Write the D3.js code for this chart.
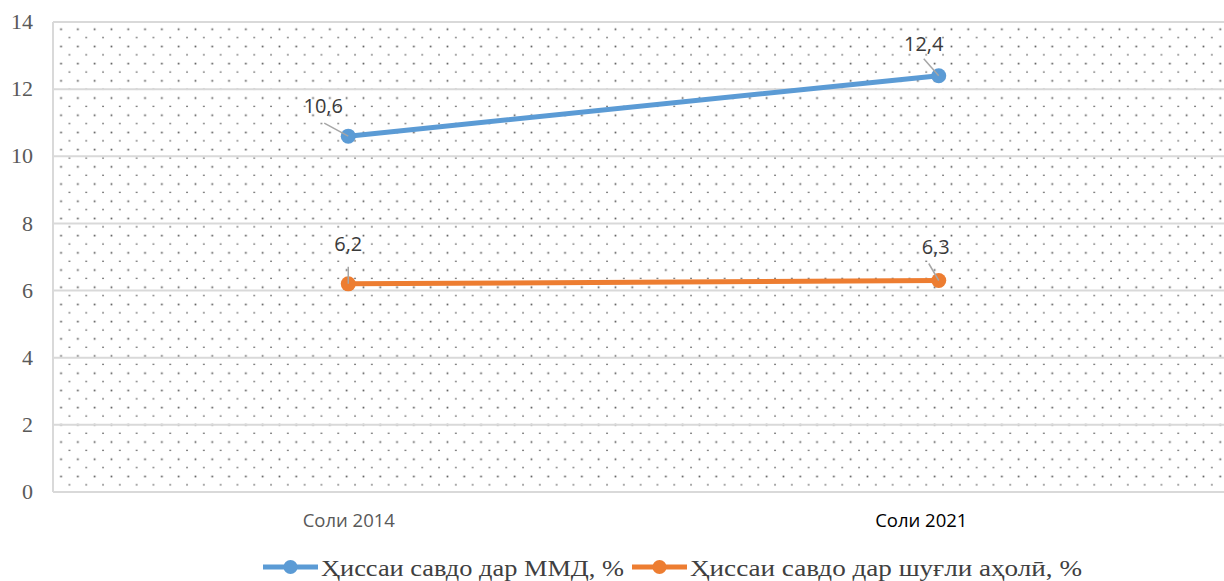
<!DOCTYPE html>
<html>
<head>
<meta charset="utf-8">
<script src="https://cdn.jsdelivr.net/npm/d3@7"></script>
<style>
  body { margin: 0; background: #fff; }
  svg { display: block; }
  .serif { font-family: 'Times New Roman', 'Liberation Serif', Tinos, 'DejaVu Serif', 'Noto Serif', FreeSerif, serif; }
  .sans { font-family: 'Open Sans', Lato, sans-serif; }
</style>
</head>
<body>
<svg id="drawing_region"></svg>
<script>
// data
const categories = ['Соли 2014', 'Соли 2021'];
const seriesNames = ['Ҳиссаи савдо дар ММД, %', 'Ҳиссаи савдо дар шуғли аҳолӣ, %'];
const gdpShare = [10.6, 12.4];
const employShare = [6.2, 6.3];
const yTicks = [0, 2, 4, 6, 8, 10, 12, 14];
const colors = ['#5b9bd5', '#ed7d31'];

const width = 1224, height = 581;
const margin = {top: 22, right: -10, bottom: 89, left: 53};
const inner_width = width - margin.left - margin.right;
const inner_height = height - margin.top - margin.bottom;

const svg = d3.select('#drawing_region')
    .attr('width', width)
    .attr('height', height);

// dotted fill
const defs = svg.append('defs');
const pat = defs.append('pattern')
    .attr('id', 'dots')
    .attr('patternUnits', 'userSpaceOnUse')
    .attr('width', 16.8).attr('height', 17.2)
    .attr('x', margin.left).attr('y', margin.top);
pat.append('rect').attr('x', 4.6).attr('y', 1.6).attr('width', 1.7).attr('height', 1.7).attr('fill', '#555');
pat.append('rect').attr('x', 13).attr('y', 10.2).attr('width', 1.7).attr('height', 1.3).attr('fill', '#666');

const chart = svg.append('g')
    .attr('transform', `translate(${margin.left}, ${margin.top})`);

const xscale = d3.scalePoint()
    .domain(categories)
    .range([0, inner_width])
    .padding(0.5);

const yscale = d3.scaleLinear()
    .domain([0, 14])
    .range([inner_height, 0]);

chart.append('rect')
    .attr('x', 0).attr('y', 0)
    .attr('width', inner_width).attr('height', inner_height)
    .attr('fill', 'url(#dots)');

// grid lines
chart.selectAll('.grid')
    .data(yTicks)
    .enter()
    .append('line')
    .attr('x1', 0).attr('x2', inner_width)
    .attr('y1', d => yscale(d)).attr('y2', d => yscale(d))
    .attr('stroke', '#d9d9d9')
    .attr('stroke-width', 2);

chart.append('line')
    .attr('x1', 0).attr('x2', 0)
    .attr('y1', 0).attr('y2', inner_height)
    .attr('stroke', '#d9d9d9')
    .attr('stroke-width', 2);

// y axis
const yaxis = d3.axisLeft(yscale).tickValues(yTicks).tickSize(0).tickPadding(20);
const yaxis_group = chart.append('g').call(yaxis).attr('font-family', null);
yaxis_group.select('.domain').remove();
yaxis_group.selectAll('text')
    .attr('class', 'serif')
    .attr('font-size', 22)
    .attr('dy', '0.3em')
    .attr('fill', '#595959');

// x axis
const xaxis = d3.axisBottom(xscale).tickSize(0).tickPadding(22);
const xaxis_group = chart.append('g')
    .attr('transform', `translate(0, ${inner_height})`)
    .call(xaxis).attr('font-family', null);
xaxis_group.select('.domain').remove();
xaxis_group.selectAll('text')
    .attr('class', 'sans')
    .attr('font-size', 18.5)
    .attr('fill', (d, i) => i === 0 ? '#595959' : '#000')
    .attr('dx', (d, i) => i === 0 ? 0 : -18);

// lines, markers and labels
const series = [gdpShare, employShare];
const labelOffsets = [[[-25, -23], [-15, -25]], [[0, -33], [-3, -27]]];
const leaderEnds = [[[-24, -13], [-15, -17]], [[0, -17], [-10, -17]]];

series.forEach((vals, s) => {
    const pts = vals.map((v, i) => ({cat: categories[i], v: v, i: i}));
    chart.append('path')
        .datum(pts)
        .attr('fill', 'none')
        .attr('stroke', colors[s])
        .attr('stroke-width', 5)
        .attr('stroke-linecap', 'round')
        .attr('d', d3.line().x(d => xscale(d.cat)).y(d => yscale(d.v)));

    const g = chart.append('g');
    g.selectAll('circle')
        .data(pts)
        .enter()
        .append('circle')
        .attr('cx', d => xscale(d.cat))
        .attr('cy', d => yscale(d.v))
        .attr('r', 7.5)
        .attr('fill', colors[s]);

    g.selectAll('line.leader')
        .data(pts)
        .enter()
        .append('line')
        .attr('x1', d => xscale(d.cat) + leaderEnds[s][d.i][0])
        .attr('y1', d => yscale(d.v) + leaderEnds[s][d.i][1])
        .attr('x2', d => xscale(d.cat))
        .attr('y2', d => yscale(d.v))
        .attr('stroke', '#a6a6a6')
        .attr('stroke-width', 1.5);

    g.selectAll('text')
        .data(pts)
        .enter()
        .append('text')
        .attr('class', 'sans')
        .attr('x', d => xscale(d.cat) + labelOffsets[s][d.i][0])
        .attr('y', d => yscale(d.v) + labelOffsets[s][d.i][1])
        .attr('text-anchor', 'middle')
        .attr('font-size', 20)
        .attr('fill', '#3a3a3a')
        .text(d => String(d.v).replace('.', ','));
});

// legend
const legendX = [263, 632];
const legendW = [303, 392];
const legend = svg.append('g').attr('transform', 'translate(0, 567)');
seriesNames.forEach((name, s) => {
    const lg = legend.append('g').attr('transform', `translate(${legendX[s]}, 0)`);
    lg.append('line')
        .attr('x1', 0).attr('x2', 55)
        .attr('y1', 0).attr('y2', 0)
        .attr('stroke', colors[s])
        .attr('stroke-width', 5);
    lg.append('circle')
        .attr('cx', 27.5).attr('cy', 0).attr('r', 7)
        .attr('fill', colors[s]);
    lg.append('text')
        .attr('class', 'serif')
        .attr('x', 58).attr('y', 9)
        .attr('font-size', 24)
        .attr('textLength', legendW[s])
        .attr('lengthAdjust', 'spacingAndGlyphs')
        .attr('fill', '#404040')
        .text(name);
});
</script>
</body>
</html>
